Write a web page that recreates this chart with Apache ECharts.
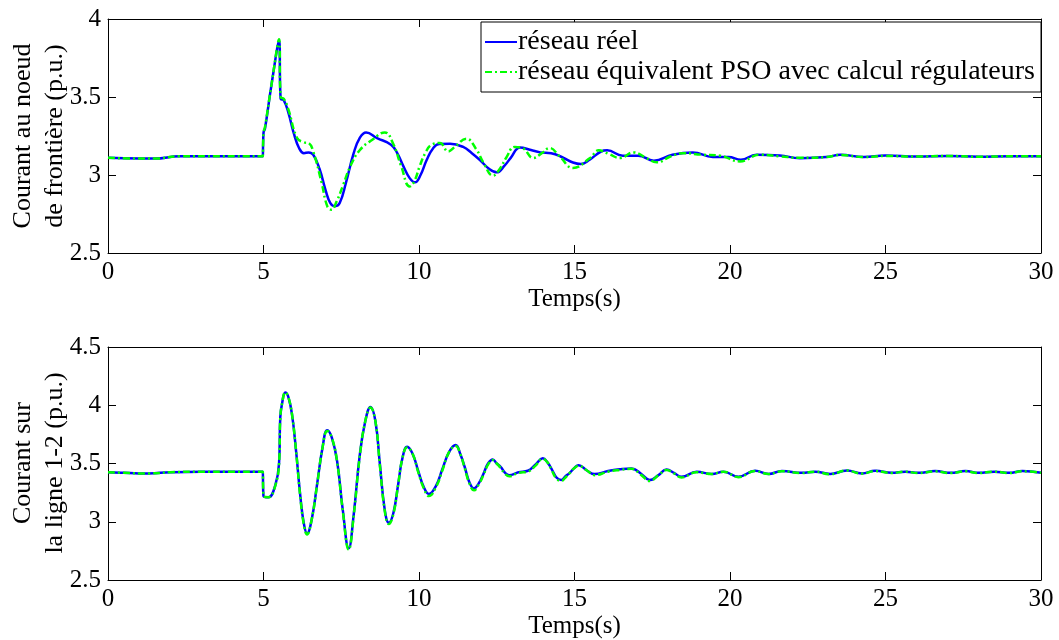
<!DOCTYPE html>
<html>
<head>
<meta charset="utf-8">
<script src="https://cdn.jsdelivr.net/npm/echarts@6/dist/echarts.min.js"></script>
<style>html,body{margin:0;padding:0;background:#fff}#c{width:1059px;height:640px}</style>
</head>
<body>
<div id="c"></div>
<script>
// ---- data ----
var xTicks = [0, 5, 10, 15, 20, 25, 30];
var seriesNames = ['réseau réel', 'réseau équivalent PSO avec calcul régulateurs'];
var xName = 'Temps(s)';
var yNameTop = 'Courant au noeud\nde frontière (p.u.)';
var yNameBottom = 'Courant sur\nla ligne 1-2 (p.u.)';

var topRealT = [0,1,1.5,2.3,4.98,4.99,5.0,5.05,5.25,5.5,5.55,5.65,5.8,5.97,6.15,6.3,6.45,6.6,6.8,7.0,7.15,7.3,7.45,7.65,7.9,8.1,8.3,8.65,9.1,9.3,9.5,9.7,9.87,10.05,10.25,10.45,10.65,11.0,11.42,11.7,11.95,12.25,12.5,12.75,12.95,13.25,13.6,13.9,14.25,14.65,14.95,15.2,15.5,15.85,16.05,16.55,17.05,17.55,18.15,18.8,19.45,19.95,20.35,20.85,21.6,22.25,23.1,23.55,24.3,25,26,27,28,29,30];
var topRealV = [3.11,3.105,3.105,3.12,3.12,3.12,3.27,3.30,3.57,3.86,3.49,3.48,3.40,3.27,3.17,3.14,3.145,3.13,3.04,2.90,2.82,2.80,2.82,2.95,3.14,3.24,3.273,3.237,3.194,3.14,3.055,2.98,2.953,3.0,3.098,3.17,3.199,3.20,3.18,3.14,3.098,3.04,3.017,3.06,3.11,3.177,3.16,3.145,3.14,3.109,3.08,3.07,3.10,3.15,3.158,3.124,3.124,3.092,3.13,3.145,3.115,3.115,3.098,3.13,3.125,3.108,3.115,3.13,3.115,3.125,3.118,3.122,3.117,3.12,3.12];

var topPsoT = [0,1,1.5,2.3,4.98,4.99,5.0,5.05,5.25,5.5,5.55,5.65,5.8,6.08,6.3,6.45,6.6,6.87,7.05,7.18,7.35,7.55,7.8,8.1,8.5,8.9,9.17,9.43,9.7,9.85,10.02,10.2,10.4,10.67,10.94,11.15,11.52,11.85,12.07,12.38,12.6,12.8,13.08,13.35,13.67,13.95,14.2,14.52,14.95,15.5,15.78,16.1,16.46,16.9,17.3,17.64,18.1,18.5,19.1,19.67,20.32,20.96,21.6,22.25,23.1,23.55,24.3,25,26,27,28,29,30];
var topPsoV = [3.11,3.105,3.105,3.12,3.12,3.12,3.27,3.31,3.57,3.87,3.50,3.49,3.42,3.237,3.21,3.205,3.15,2.95,2.80,2.778,2.83,2.93,3.06,3.16,3.226,3.273,3.20,3.055,2.927,2.96,3.055,3.14,3.194,3.205,3.151,3.18,3.233,3.162,3.08,2.996,3.04,3.109,3.18,3.17,3.109,3.14,3.173,3.12,3.045,3.109,3.158,3.135,3.109,3.145,3.11,3.081,3.12,3.14,3.13,3.124,3.087,3.13,3.12,3.11,3.115,3.128,3.115,3.122,3.118,3.122,3.117,3.12,3.12];

var botRealT = [0,0.5,1,1.3,2,3,4,4.98,4.99,5.0,5.16,5.38,5.5,5.54,5.6,5.7,5.8,5.92,6.05,6.18,6.3,6.4,6.55,6.72,6.9,7.05,7.2,7.37,7.55,7.74,7.9,8.09,8.27,8.44,8.6,8.74,8.9,9.03,9.18,9.33,9.47,9.62,9.8,9.97,10.15,10.32,10.55,10.75,10.97,11.18,11.33,11.47,11.62,11.77,11.92,12.07,12.22,12.37,12.5,12.63,12.77,12.9,13.2,13.5,13.74,13.98,14.13,14.27,14.42,14.57,14.71,14.85,14.99,15.13,15.4,15.65,16.08,16.45,16.83,17.15,17.42,17.7,17.96,18.2,18.44,18.93,19.41,19.79,20.27,20.81,21.24,21.67,22.31,22.74,23.22,23.76,24.24,24.67,25.2,25.63,26.06,26.6,27.09,27.57,28.0,28.49,28.97,29.4,30];
var botRealV = [3.425,3.42,3.415,3.415,3.425,3.43,3.43,3.43,3.43,3.22,3.21,3.315,3.50,3.90,4.02,4.11,4.07,3.915,3.6,3.23,2.98,2.90,3.02,3.315,3.64,3.786,3.72,3.515,3.10,2.772,3.06,3.56,3.86,3.986,3.86,3.50,3.10,2.992,3.08,3.32,3.55,3.643,3.58,3.44,3.30,3.238,3.31,3.45,3.60,3.658,3.58,3.47,3.34,3.286,3.33,3.41,3.50,3.535,3.50,3.47,3.42,3.40,3.425,3.438,3.49,3.544,3.51,3.45,3.38,3.358,3.39,3.42,3.46,3.486,3.44,3.409,3.435,3.45,3.458,3.41,3.358,3.40,3.449,3.42,3.386,3.429,3.41,3.43,3.386,3.437,3.41,3.435,3.42,3.43,3.41,3.44,3.415,3.437,3.42,3.43,3.42,3.435,3.42,3.435,3.42,3.43,3.42,3.435,3.42];

var botPsoT = botRealT.slice();
var botPsoV = [3.425,3.42,3.415,3.415,3.425,3.43,3.43,3.43,3.43,3.22,3.21,3.31,3.50,3.89,4.02,4.11,4.07,3.915,3.6,3.22,2.97,2.89,3.02,3.31,3.64,3.78,3.72,3.51,3.09,2.76,3.05,3.55,3.86,3.98,3.86,3.49,3.09,2.98,3.07,3.32,3.55,3.64,3.58,3.43,3.29,3.22,3.30,3.44,3.60,3.65,3.58,3.46,3.33,3.27,3.32,3.40,3.49,3.53,3.50,3.46,3.41,3.39,3.42,3.43,3.48,3.54,3.51,3.44,3.37,3.35,3.38,3.42,3.46,3.48,3.44,3.40,3.43,3.445,3.455,3.40,3.35,3.40,3.445,3.415,3.38,3.425,3.41,3.43,3.383,3.435,3.41,3.433,3.418,3.43,3.408,3.44,3.413,3.435,3.418,3.43,3.418,3.433,3.418,3.433,3.418,3.43,3.418,3.433,3.42];

// ---- chart ----
function zip(t, v) { return t.map(function (x, i) { return [x, v[i]]; }); }
var FONT = 'Liberation Serif';
var FS = 25;
var grids = [
  {left: 108, top: 19, width: 933, height: 234},
  {left: 108, top: 347, width: 933, height: 233}
];
function xAxisMain(gi) {
  return {type: 'value', gridIndex: gi, min: 0, max: 30, interval: 5, position: 'bottom',
    name: xName, nameLocation: 'middle', nameGap: 34,
    nameTextStyle: {fontFamily: FONT, fontSize: FS, color: '#000'},
    axisLine: {show: true, onZero: false, lineStyle: {color: '#000', width: 1}},
    axisTick: {show: true, inside: true, length: 8, lineStyle: {color: '#000'}},
    axisLabel: {fontFamily: FONT, fontSize: FS, color: '#000', margin: 7},
    splitLine: {show: false}};
}
function xAxisTop(gi) {
  return {type: 'value', gridIndex: gi, min: 0, max: 30, interval: 5, position: 'top',
    axisLine: {show: true, onZero: false, lineStyle: {color: '#000', width: 1}},
    axisTick: {show: true, inside: true, length: 8, lineStyle: {color: '#000'}},
    axisLabel: {show: false}, splitLine: {show: false}};
}
function yAxisMain(gi, min, max) {
  return {type: 'value', gridIndex: gi, min: min, max: max, interval: 0.5, position: 'left',
    axisLine: {show: true, onZero: false, lineStyle: {color: '#000', width: 1}},
    axisTick: {show: true, inside: true, length: 8, lineStyle: {color: '#000'}},
    axisLabel: {fontFamily: FONT, fontSize: FS, color: '#000', margin: 7},
    splitLine: {show: false}};
}
function yAxisRight(gi, min, max) {
  return {type: 'value', gridIndex: gi, min: min, max: max, interval: 0.5, position: 'right',
    axisLine: {show: true, onZero: false, lineStyle: {color: '#000', width: 1}},
    axisTick: {show: true, inside: true, length: 8, lineStyle: {color: '#000'}},
    axisLabel: {show: false}, splitLine: {show: false}};
}
var blueStyle = {color: '#0000ff', width: 2.5, type: 'solid'};
var greenStyle = {color: '#00ff00', width: 2.5, type: [7, 3, 2, 3]};
function line(name, xi, yi, data, style, z) {
  return {type: 'line', name: name, xAxisIndex: xi, yAxisIndex: yi, data: data,
    showSymbol: false, symbol: 'none', smooth: 0.45,
    lineStyle: style, itemStyle: {color: style.color}, z: z, animation: false};
}
var chart = echarts.init(document.getElementById('c'), null, {renderer: 'canvas'});
chart.setOption({
  backgroundColor: '#fff',
  animation: false,
  grid: grids,
  xAxis: [xAxisMain(0), xAxisTop(0), xAxisMain(1), xAxisTop(1)],
  yAxis: [yAxisMain(0, 2.5, 4), yAxisRight(0, 2.5, 4), yAxisMain(1, 2.5, 4.5), yAxisRight(1, 2.5, 4.5)],
  legend: {
    show: true, orient: 'vertical', left: 481, top: 22,
    data: seriesNames,
    backgroundColor: '#fff', borderColor: '#000', borderWidth: 1,
    padding: [6, 6, 6, 3], itemGap: 2, itemWidth: 32, itemHeight: 14,
    itemStyle: {opacity: 0},
    textStyle: {fontFamily: FONT, fontSize: 28, color: '#000', padding: [0, 0, 0, -4]}
  },
  graphic: [
    {type: 'text', x: 39, y: 136, rotation: Math.PI / 2,
      style: {text: yNameTop, fontFamily: FONT, fontSize: 26, fill: '#000', lineHeight: 32,
        align: 'center', verticalAlign: 'middle'}},
    {type: 'text', x: 39, y: 463, rotation: Math.PI / 2,
      style: {text: yNameBottom, fontFamily: FONT, fontSize: 26, fill: '#000', lineHeight: 32,
        align: 'center', verticalAlign: 'middle'}}
  ],
  series: [
    line(seriesNames[0], 0, 0, zip(topRealT, topRealV), blueStyle, 2),
    line(seriesNames[1], 0, 0, zip(topPsoT, topPsoV), greenStyle, 3),
    line(seriesNames[0], 2, 2, zip(botRealT, botRealV), blueStyle, 2),
    line(seriesNames[1], 2, 2, zip(botPsoT, botPsoV), greenStyle, 3)
  ]
});
</script>
</body>
</html>
